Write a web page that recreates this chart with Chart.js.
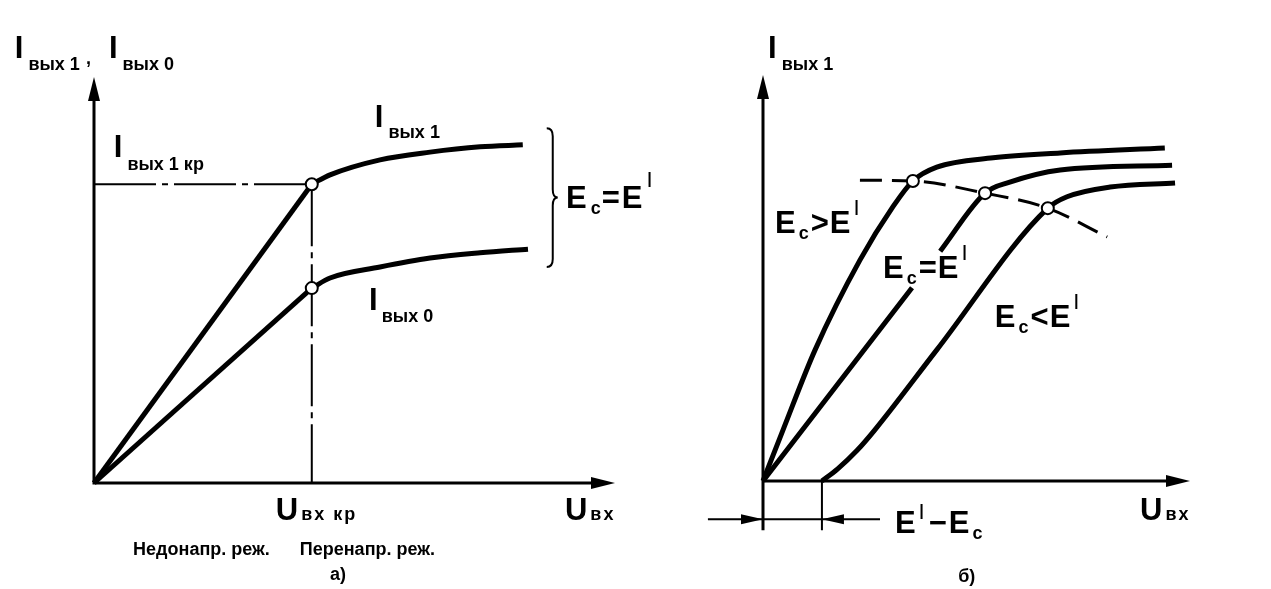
<!DOCTYPE html>
<html>
<head>
<meta charset="utf-8">
<script src="https://cdn.jsdelivr.net/npm/chart.js@4"></script>
<style>
  html, body { margin: 0; padding: 0; background: #fff; }
  #wrap { position: relative; width: 1271px; height: 589px; }
  #chartA { position: absolute; left: 0; top: 0; }
  #chartB { position: absolute; left: 635px; top: 0; }
</style>
</head>
<body>
<div id="wrap">
  <canvas id="chartA" width="700" height="589"></canvas>
  <canvas id="chartB" width="636" height="589"></canvas>
</div>
<script>
// panel а): I_вых1, I_вых0 vs U_вх (relative units, axes 0..10)
const aKneeU = 4.18;
const aOut1U = [0, 4.18, 4.53, 5.49, 6.45, 7.41, 8.23];
const aOut1I = [0, 7.36, 7.59, 7.96, 8.15, 8.28, 8.33];
const aOut0U = [0, 4.18, 4.53, 5.49, 6.45, 7.41, 8.33];
const aOut0I = [0, 4.80, 5.05, 5.32, 5.54, 5.67, 5.76];

// panel б): I_вых1 vs U_вх for three values of E_c
const bShift = 1.38;   // E' - E_c
const bCurve1U = [0, 0.47, 1.22, 2.27, 3.04, 3.51, 4.07, 5.39, 6.96, 9.41];
const bCurve1I = [0, 1.26, 3.23, 5.44, 6.75, 7.39, 7.73, 7.96, 8.08, 8.20];
const bCurve2U = [0, 3.49, 3.82, 4.15, 5.20, 5.78, 6.96, 9.58];
const bCurve2I = [0, 4.76, null, 5.66, 7.09, 7.36, 7.66, 7.78];
const bCurve3U = [bShift, 1.75, 2.20, 2.62, 4.07, 6.67, 7.12, 8.13, 9.65];
const bCurve3I = [0, 0.30, 0.75, 1.26, 3.23, 6.72, 7.00, 7.24, 7.34];
const bBoundU = [2.27, 3.51, 5.20, 6.67, 8.06];
const bBoundI = [7.41, 7.39, 7.09, 6.72, 6.01];
const bKneeU = [3.51, 5.20, 6.67];
const bKneeI = [7.39, 7.09, 6.72];

const FAM = '"Liberation Sans", Arial, sans-serif';
const fonts = {
  big: 'bold 31px ' + FAM,
  sub: 'bold 18px ' + FAM,
  sup: '22px ' + FAM,
  note: 'bold 18px ' + FAM
};

const pts = (xs, ys) => xs.map((v, i) => ({x: v, y: ys[i]}));

function drawRuns(ctx, x, y, runs) {
  let cx = x;
  runs.forEach(r => {
    ctx.font = fonts[r.f || 'big'];
    ctx.letterSpacing = (r.ls || 0) + 'px';
    cx += r.dx || 0;
    ctx.fillText(r.t, cx, y + (r.dy || 0));
    cx += ctx.measureText(r.t).width;
  });
  ctx.letterSpacing = '0px';
}

function arrow(ctx, x, y, dir, len, half) {
  ctx.beginPath();
  ctx.moveTo(x, y);
  if (dir === 'up') { ctx.lineTo(x - half, y + len); ctx.lineTo(x + half, y + len); }
  if (dir === 'right') { ctx.lineTo(x - len, y - half); ctx.lineTo(x - len, y + half); }
  if (dir === 'left') { ctx.lineTo(x + len, y - half); ctx.lineTo(x + len, y + half); }
  ctx.closePath();
  ctx.fill();
}

const labelsA = [
  {x: -1.52, y: 10.47, runs: [{t: 'I'}, {t: 'вых 1', f: 'sub', dx: 5, dy: 12},
    {t: ',', f: 'sub', dx: 6, dy: 6}, {t: 'I', dx: 18}, {t: 'вых 0', f: 'sub', dx: 5, dy: 12}]},
  {x: 0.38, y: 8.03, runs: [{t: 'I'}, {t: 'вых 1 кр', f: 'sub', dx: 5, dy: 13}]},
  {x: 5.39, y: 8.77, runs: [{t: 'I'}, {t: 'вых 1', f: 'sub', dx: 5, dy: 11}]},
  {x: 5.28, y: 4.26, runs: [{t: 'I'}, {t: 'вых 0', f: 'sub', dx: 4, dy: 12}]},
  {x: 3.49, y: -0.91, runs: [{t: 'U'}, {t: 'вх кр', f: 'note', dx: 3, ls: 2}]},
  {x: 9.04, y: -0.91, runs: [{t: 'U'}, {t: 'вх', f: 'note', dx: 3, ls: 2}]},
  {x: 9.06, y: 6.77, runs: [{t: 'E'}, {t: 'c', f: 'sub', dx: 4, dy: 6}, {t: '=', dx: 1},
    {t: 'E', dx: 2}, {t: 'I', f: 'sup', dx: 4, dy: -21}]},
  {x: 0.75, y: -1.77, runs: [{t: 'Недонапр. реж.', f: 'note'}]},
  {x: 3.95, y: -1.77, runs: [{t: 'Перенапр. реж.', f: 'note'}]},
  {x: 4.53, y: -2.39, runs: [{t: 'а)', f: 'note'}]}
];

const ecRuns = (sign) => [{t: 'E'}, {t: 'c', f: 'sub', dx: 3, dy: 6}, {t: sign, dx: 2},
  {t: 'E', dx: 1}, {t: 'I', f: 'sup', dx: 3, dy: -18}];

const labelsB = [
  {x: 0.12, y: 10.42, runs: [{t: 'I'}, {t: 'вых 1', f: 'sub', dx: 5, dy: 12}]},
  {x: 0.28, y: 6.11, runs: ecRuns('>')},
  {x: 2.81, y: 5.00, runs: ecRuns('=')},
  {x: 5.43, y: 3.79, runs: ecRuns('<')},
  {x: 3.09, y: -1.28, runs: [{t: 'E'}, {t: 'I', f: 'sup', dx: 3, dy: -14}, {t: '\u2212', dx: 4},
    {t: 'E', dx: 2}, {t: 'c', f: 'sub', dx: 3, dy: 6}]},
  {x: 8.83, y: -0.96, runs: [{t: 'U'}, {t: 'вх', f: 'note', dx: 3, ls: 2}]},
  {x: 4.57, y: -2.49, runs: [{t: 'б)', f: 'note'}]}
];

const panelA = {
  id: 'panelA',
  afterDraw(chart) {
    const {ctx, scales: {x, y}} = chart;
    const px = v => x.getPixelForValue(v), py = v => y.getPixelForValue(v);
    ctx.save();
    ctx.strokeStyle = '#000';
    ctx.fillStyle = '#000';
    ctx.lineWidth = 3;
    ctx.beginPath();
    ctx.moveTo(px(0), py(10) + 20);
    ctx.lineTo(px(0), py(0));
    ctx.lineTo(px(10) - 20, py(0));
    ctx.stroke();
    arrow(ctx, px(0), py(10), 'up', 24, 6);
    arrow(ctx, px(10), py(0), 'right', 24, 6);

    // brace
    const bx = px(8.69), s = 6, w = 11, h = 8;
    const yT = py(8.74), yB = py(5.32), ym = (yT + yB) / 2;
    ctx.lineWidth = 2;
    ctx.beginPath();
    ctx.moveTo(bx, yT);
    ctx.quadraticCurveTo(bx + s, yT, bx + s, yT + h);
    ctx.lineTo(bx + s, ym - h);
    ctx.quadraticCurveTo(bx + s, ym, bx + w, ym);
    ctx.quadraticCurveTo(bx + s, ym, bx + s, ym + h);
    ctx.lineTo(bx + s, yB - h);
    ctx.quadraticCurveTo(bx + s, yB, bx, yB);
    ctx.stroke();

    ctx.textBaseline = 'alphabetic';
    labelsA.forEach(l => drawRuns(ctx, px(l.x), py(l.y), l.runs));
    ctx.restore();
  }
};

const panelB = {
  id: 'panelB',
  afterDraw(chart) {
    const {ctx, scales: {x, y}} = chart;
    const px = v => x.getPixelForValue(v), py = v => y.getPixelForValue(v);
    ctx.save();
    ctx.strokeStyle = '#000';
    ctx.fillStyle = '#000';
    ctx.lineWidth = 3;
    ctx.beginPath();
    ctx.moveTo(px(0), py(10) + 20);
    ctx.lineTo(px(0), py(-1.21));
    ctx.moveTo(px(0), py(0));
    ctx.lineTo(px(10) - 20, py(0));
    ctx.stroke();
    arrow(ctx, px(0), py(10), 'up', 24, 6);
    arrow(ctx, px(10), py(0), 'right', 24, 6);

    // E' - E_c dimension
    ctx.lineWidth = 2;
    ctx.beginPath();
    ctx.moveTo(px(bShift), py(0));
    ctx.lineTo(px(bShift), py(-1.21));
    ctx.moveTo(px(-1.29), py(-0.94));
    ctx.lineTo(px(2.74), py(-0.94));
    ctx.stroke();
    arrow(ctx, px(0), py(-0.94), 'right', 22, 5);
    arrow(ctx, px(bShift), py(-0.94), 'left', 22, 5);

    ctx.textBaseline = 'alphabetic';
    labelsB.forEach(l => drawRuns(ctx, px(l.x), py(l.y), l.runs));
    ctx.restore();
  }
};

const base = {
  showLine: true,
  pointRadius: 0,
  borderColor: '#000',
  borderWidth: 5,
  fill: false,
  clip: false
};
const knees = (data) => ({
  data: data,
  showLine: false,
  pointRadius: 6,
  pointBackgroundColor: '#fff',
  pointBorderColor: '#000',
  pointBorderWidth: 2,
  clip: false
});

const commonOpts = (pad) => ({
  responsive: false,
  animation: false,
  events: [],
  layout: {padding: pad},
  plugins: {legend: {display: false}, tooltip: {enabled: false}},
  scales: {
    x: {type: 'linear', min: 0, max: 10, display: false},
    y: {type: 'linear', min: 0, max: 10, display: false}
  }
});

new Chart(document.getElementById('chartA').getContext('2d'), {
  type: 'scatter',
  data: {
    datasets: [
      knees([{x: aKneeU, y: aOut1I[1]}, {x: aKneeU, y: aOut0I[1]}]),
      {...base, data: pts(aOut1U.slice(0, 2), aOut1I.slice(0, 2))},
      {...base, data: pts(aOut1U.slice(1), aOut1I.slice(1)), cubicInterpolationMode: 'monotone'},
      {...base, data: pts(aOut0U.slice(0, 2), aOut0I.slice(0, 2))},
      {...base, data: pts(aOut0U.slice(1), aOut0I.slice(1)), cubicInterpolationMode: 'monotone'},
      {...base, borderWidth: 2, borderDash: [62, 6, 6, 6],
        data: [{x: 0, y: aOut1I[1]}, {x: aKneeU, y: aOut1I[1]}]},
      {...base, borderWidth: 2, borderDash: [62, 6, 6, 6],
        data: [{x: aKneeU, y: aOut1I[1]}, {x: aKneeU, y: 0}]}
    ]
  },
  options: commonOpts({left: 94, right: 85, top: 77, bottom: 106}),
  plugins: [panelA]
});

new Chart(document.getElementById('chartB').getContext('2d'), {
  type: 'scatter',
  data: {
    datasets: [
      knees(pts(bKneeU, bKneeI)),
      {...base, data: pts(bCurve1U, bCurve1I), cubicInterpolationMode: 'monotone'},
      {...base, data: pts(bCurve2U, bCurve2I), cubicInterpolationMode: 'monotone', spanGaps: false},
      {...base, data: pts(bCurve3U, bCurve3I), cubicInterpolationMode: 'monotone'},
      {...base, borderWidth: 3, borderDash: [22, 10], data: pts(bBoundU, bBoundI),
        cubicInterpolationMode: 'monotone'}
    ]
  },
  options: commonOpts({left: 128, right: 81, top: 75, bottom: 108}),
  plugins: [panelB]
});
</script>
</body>
</html>
